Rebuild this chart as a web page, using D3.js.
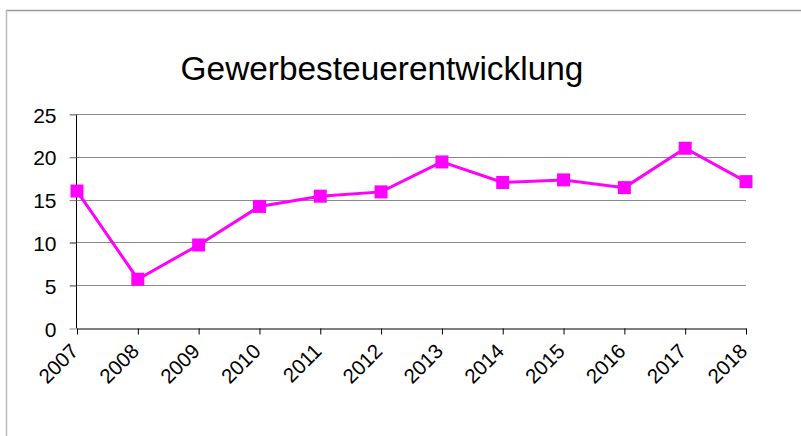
<!DOCTYPE html>
<html>
<head>
<meta charset="utf-8">
<script src="https://cdn.jsdelivr.net/npm/d3@7"></script>
<style>
  body { margin: 0; background: #fff; }
  text { font-family: "Liberation Sans", Arial, sans-serif; fill: #000; }
</style>
</head>
<body>
<div id="chart"></div>
<script>
// data
const years = ["2007", "2008", "2009", "2010", "2011", "2012", "2013", "2014", "2015", "2016", "2017", "2018"];
const values = [16.0, 5.7, 9.7, 14.2, 15.4, 15.9, 19.4, 17.0, 17.3, 16.4, 21.0, 17.1];
const yTicks = [0, 5, 10, 15, 20, 25];
const title = "Gewerbesteuerentwicklung";

const width = 801, height = 436;
const plotLeft = 77, plotRight = 746, plotTop = 114, plotBottom = 328;

const svg = d3.select('#chart')
  .append('svg')
  .attr('width', width)
  .attr('height', height);

// outer frame (only top + left visible in the picture)
svg.append('line')
  .attr('x1', 6).attr('y1', 10.5).attr('x2', width).attr('y2', 10.5)
  .attr('stroke', '#999').attr('stroke-width', 1.5);
svg.append('line')
  .attr('x1', 6.5).attr('y1', 10).attr('x2', 6.5).attr('y2', height)
  .attr('stroke', '#bbb').attr('stroke-width', 1.5);

svg.append('text')
  .attr('x', 382)
  .attr('y', 80)
  .attr('text-anchor', 'middle')
  .style('font-size', '33.4px')
  .text(title);

let x = d3.scalePoint()
  .domain(years)
  .range([plotLeft, plotRight])
  .padding(0);

let y = d3.scaleLinear()
  .domain([0, 25])
  .range([plotBottom, plotTop]);

// gridlines
svg.selectAll('.grid')
  .data(yTicks.filter(d => d > 0))
  .enter()
  .append('line')
  .attr('class', 'grid')
  .attr('x1', plotLeft - 7)
  .attr('x2', plotRight)
  .attr('y1', d => Math.round(y(d)) + 0.5)
  .attr('y2', d => Math.round(y(d)) + 0.5)
  .attr('stroke', '#8a8a8a')
  .attr('stroke-width', 1);

// y axis
const yAxis = svg.append('g')
  .attr('transform', 'translate(' + (plotLeft - 0.5) + ',0.5)')
  .call(d3.axisLeft(y).tickValues(yTicks).tickSize(7).tickPadding(13));
yAxis.select('.domain').attr('stroke', '#000').attr('d', 'M0,' + plotTop + 'V' + plotBottom);
yAxis.selectAll('.tick line').attr('stroke', '#888');
yAxis.selectAll('text').style('font-size', '21px').attr('dy', '0.36em');

// x axis
const xAxis = svg.append('g')
  .attr('transform', 'translate(0,' + (plotBottom + 0.5) + ')')
  .call(d3.axisBottom(x).tickSize(6).tickSizeOuter(0));
xAxis.select('.domain').attr('stroke', '#000').attr('stroke-width', 1.2);
xAxis.selectAll('.tick line').attr('stroke', '#000');
xAxis.selectAll('text')
  .style('font-size', '20.5px')
  .attr('text-anchor', 'end')
  .attr('dy', null)
  .attr('y', 0)
  .attr('transform', 'translate(2,24) rotate(-45)');

// line
const line = d3.line()
  .x((d, i) => x(years[i]))
  .y(d => y(d));

svg.append('path')
  .datum(values)
  .attr('d', line)
  .attr('fill', 'none')
  .attr('stroke', '#ff00ff')
  .attr('stroke-width', 3);

const m = 13;
svg.selectAll('rect.marker')
  .data(values)
  .enter()
  .append('rect')
  .attr('class', 'marker')
  .attr('x', (d, i) => x(years[i]) - m / 2)
  .attr('y', d => y(d) - m / 2)
  .attr('width', m)
  .attr('height', m)
  .attr('fill', '#ff00ff');
</script>
</body>
</html>
